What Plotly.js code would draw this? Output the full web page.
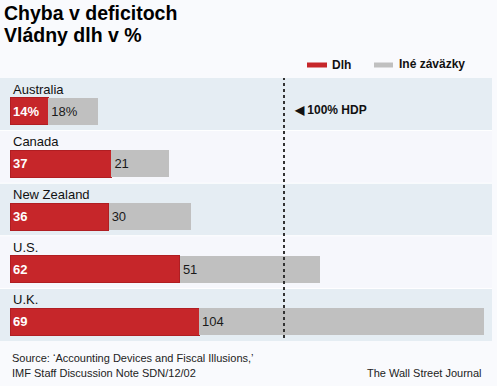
<!DOCTYPE html>
<html>
<head>
<meta charset="utf-8">
<script src="https://cdn.plot.ly/plotly-3.0.1.min.js"></script>
<style>
html,body{margin:0;padding:0;background:#f9fafd;}
#chart{width:497px;height:386px;}
</style>
</head>
<body>
<div id="chart"></div>
<script>
// ---- data ----
const countries = ['Australia', 'Canada', 'New Zealand', 'U.S.', 'U.K.'];
const debt = [14, 37, 36, 62, 69];              // Dlh
const otherLiab = [18, 21, 30, 51, 104];        // Iné záväzky
const seriesNames = ['Dlh', 'Iné záväzky'];
const refLine = 100;
const refLabel = '◀ 100% HDP';
const titleLines = ['Chyba v deficitoch', 'Vládny dlh v %'];
const sourceLines = ['Source: ‘Accounting Devices and Fiscal Illusions,’', 'IMF Staff Discussion Note SDN/12/02'];
const credit = 'The Wall Street Journal';

// ---- geometry helpers ----
const W = 497, H = 386;
const M = {l: 10, r: 5, t: 78, b: 45};
const PW = W - M.l - M.r, PH = H - M.t - M.b;
const px = x => (x - M.l) / PW;            // pixel -> paper x
const py = y => (H - M.b - y) / PH;        // pixel -> paper y

const RED = '#c6262a', GRAY = '#c0c0c0';
const BAND_A = '#e5edf3', BAND_B = '#f6f7fc';
const FONT = 'Liberation Sans, Arial, sans-serif';

const debtText = debt.map((v, i) => i === 0 ? v + '%' : String(v));
const otherText = otherLiab.map((v, i) => i === 0 ? v + '%' : String(v));

const barW = 0.513, barOff = -0.123;

const traces = [
  {
    type: 'bar', orientation: 'h', name: seriesNames[0],
    y: countries, x: debt, text: debtText,
    width: barW, offset: barOff,
    marker: {color: RED, line: {color: '#b01e22', width: 1}},
    textposition: 'inside', insidetextanchor: 'start', constraintext: 'none',
    textfont: {family: FONT, size: 13, color: '#ffffff', weight: 'bold'},
    hoverinfo: 'x+y', showlegend: false
  },
  {
    type: 'bar', orientation: 'h', name: seriesNames[1],
    y: countries, x: otherLiab, text: otherText,
    width: barW, offset: barOff,
    marker: {color: GRAY, line: {width: 0}},
    textposition: 'inside', insidetextanchor: 'start', constraintext: 'none',
    textfont: {family: FONT, size: 13, color: '#1a1a1a'},
    hoverinfo: 'x+y', showlegend: false
  }
];

const shapes = [];
countries.forEach((c, i) => {
  shapes.push({
    type: 'rect', layer: 'below', xref: 'paper', yref: 'y',
    x0: px(0), x1: px(492), y0: i - 0.5, y1: i + 0.5,
    fillcolor: i % 2 === 0 ? BAND_A : BAND_B, line: {width: 0}
  });
});
for (let i = 0; i < countries.length - 1; i++) {
  shapes.push({
    type: 'line', layer: 'below', xref: 'paper', yref: 'y',
    x0: px(0), x1: px(492), y0: i + 0.5, y1: i + 0.5,
    line: {color: '#ffffff', width: 1}
  });
}
shapes.push({
  type: 'line', xref: 'x', yref: 'paper', x0: refLine, x1: refLine,
  y0: py(338), y1: 1, line: {color: '#333333', width: 2, dash: 'dot'}
});
shapes.push({type: 'rect', xref: 'paper', yref: 'paper', x0: px(307), x1: px(327), y0: py(67.5), y1: py(62.5), fillcolor: RED, line: {width: 0}});
shapes.push({type: 'rect', xref: 'paper', yref: 'paper', x0: px(374), x1: px(393), y0: py(67.5), y1: py(62.5), fillcolor: GRAY, line: {width: 0}});

const annotations = [];
// title lines
[13, 35].forEach((yy, k) => {
  annotations.push({xref: 'paper', yref: 'paper', x: px(2), y: py(yy), xanchor: 'left', yanchor: 'middle', showarrow: false,
    text: '<b>' + titleLines[k] + '</b>', font: {family: FONT, size: 19.5, color: '#000'}});
});
countries.forEach((c, i) => {
  annotations.push({
    xref: 'paper', yref: 'y', x: px(11), y: c, yshift: 15,
    xanchor: 'left', yanchor: 'middle', showarrow: false,
    text: c, font: {family: FONT, size: 13, color: '#111111'}
  });
});
annotations.push({xref: 'paper', yref: 'paper', x: px(330), y: py(65), xanchor: 'left', yanchor: 'middle', showarrow: false,
  text: '<b>' + seriesNames[0] + '</b>', font: {family: FONT, size: 12, color: '#111'}});
annotations.push({xref: 'paper', yref: 'paper', x: px(397), y: py(64), xanchor: 'left', yanchor: 'middle', showarrow: false,
  text: '<b>' + seriesNames[1] + '</b>', font: {family: FONT, size: 12, color: '#111'}});
annotations.push({xref: 'paper', yref: 'paper', x: px(292), y: py(110), xanchor: 'left', yanchor: 'middle', showarrow: false,
  text: '<b>' + refLabel + '</b>', font: {family: FONT, size: 12, color: '#111'}});
const SRC_FONT = {family: FONT, size: 11, color: '#222'};
annotations.push({xref: 'paper', yref: 'paper', x: px(10), y: py(358), xanchor: 'left', yanchor: 'middle', showarrow: false,
  text: sourceLines[0], font: SRC_FONT});
annotations.push({xref: 'paper', yref: 'paper', x: px(10), y: py(373), xanchor: 'left', yanchor: 'middle', showarrow: false,
  text: sourceLines[1], font: SRC_FONT});
annotations.push({xref: 'paper', yref: 'paper', x: px(484), y: py(373), xanchor: 'right', yanchor: 'middle', showarrow: false,
  text: credit, font: SRC_FONT});

const layout = {
  width: W, height: H,
  margin: M,
  paper_bgcolor: '#f9fafd', plot_bgcolor: 'rgba(0,0,0,0)',
  barmode: 'stack',
  xaxis: {range: [0, PW / 2.74], visible: false, fixedrange: true},
  yaxis: {type: 'category', range: [countries.length - 0.5, -0.5], visible: false, fixedrange: true},
  shapes: shapes,
  annotations: annotations,
  showlegend: false
};

Plotly.newPlot('chart', traces, layout, {displayModeBar: false, staticPlot: true});
</script>
</body>
</html>
